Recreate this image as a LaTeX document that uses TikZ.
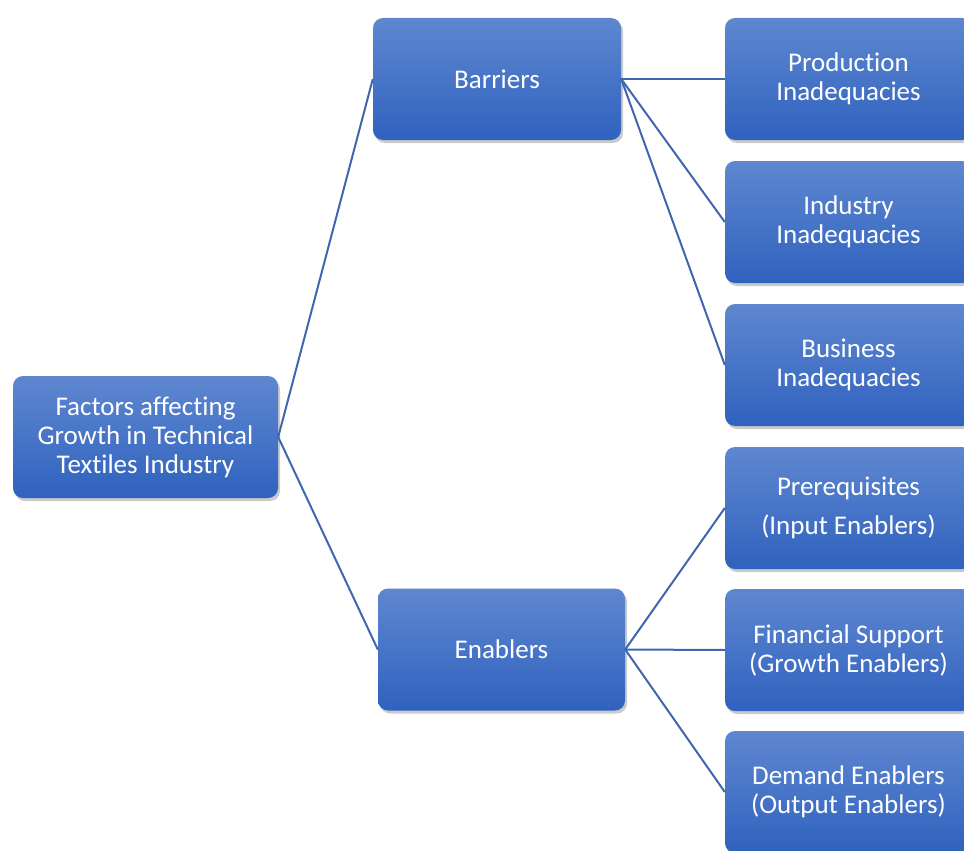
\documentclass[tikz,border=0pt]{standalone}
\usepackage{fontspec}
\setmainfont{Carlito}[Ligatures=NoCommon]
\usetikzlibrary{positioning,shadows}
\definecolor{boxtop}{HTML}{5F87D0}
\definecolor{boxbot}{HTML}{2F62BE}
\definecolor{link}{HTML}{3F66AE}

\begin{document}
\begin{tikzpicture}[x=1pt,y=-1pt,
  factor/.style={rounded corners=10pt,top color=boxtop,bottom color=boxbot,draw=none,
    text=white,align=center,minimum width=247pt,minimum height=122pt,inner sep=0pt,
    font=\fontsize{27}{29}\selectfont,
    drop shadow={shadow xshift=2pt,shadow yshift=-3pt,opacity=.35,fill=black!60}},
  link/.style={draw=link,line width=2pt}]
\useasboundingbox (0,0) rectangle (964,851);
\clip (0,0) rectangle (964,851);
\node[factor,minimum width=265pt] (root) at (145.5,437) {Factors affecting\\Growth in Technical\\Textiles Industry};
\node[factor,minimum width=248pt] (bar) at (497,79) {Barriers};
\node[factor] (ena) at (501.5,649.5) {Enablers};
\foreach \y/\num/\title in {
79/1/Production\\Inadequacies,
222/2/Industry\\Inadequacies,
365/3/Business\\Inadequacies,
508/4/Prerequisites\\[10pt](Input Enablers),
650/5/Financial Support\\(Growth Enablers),
792/6/Demand Enablers\\(Output Enablers)}
{
  \node[factor] (r\num) at (848.5,\y) {\title};
}
\foreach \a/\b in {root/bar,root/ena}{\draw[link] (\a.east)--(\b.west);}
\foreach \b in {1,2,3}{\draw[link] (bar.east)--(r\b.west);}
\foreach \b in {4,5,6}{\draw[link] (ena.east)--(r\b.west);}
\end{tikzpicture}
\end{document}
